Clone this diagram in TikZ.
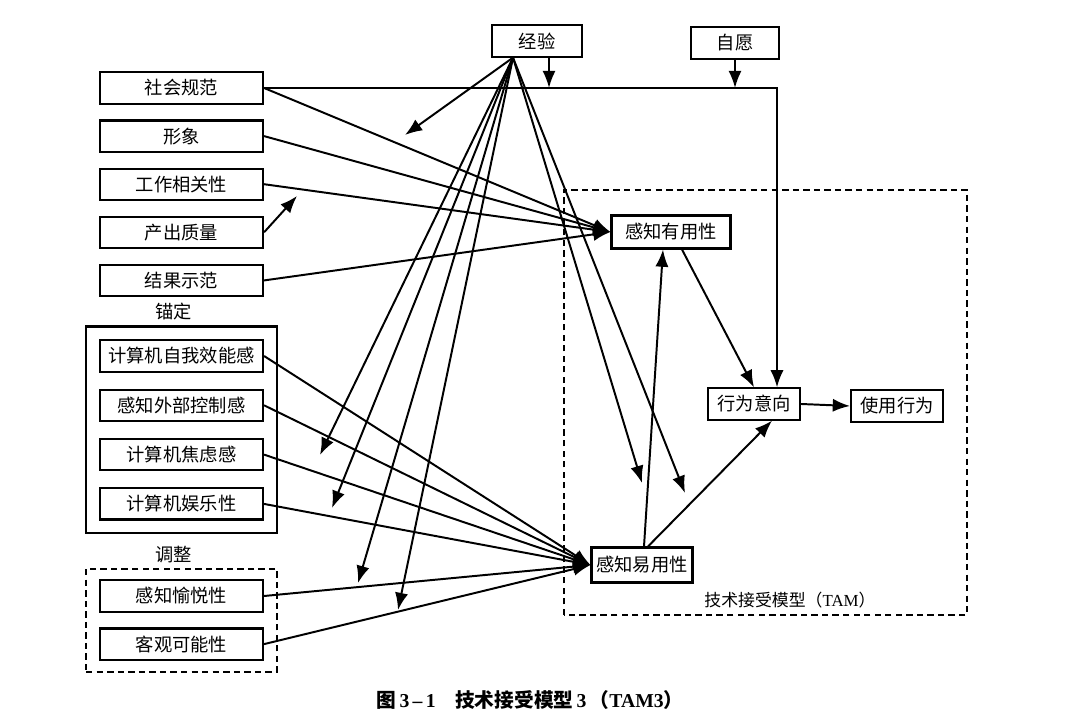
\documentclass[tikz,border=0pt]{standalone}
\usepackage{fontspec}
\setmainfont{Liberation Serif}
\newfontfamily\cjk{Noto Sans CJK SC}
\usetikzlibrary{arrows.meta, positioning, fit}

\begin{document}
\begin{tikzpicture}[
    box/.style={draw, line width=1.5pt, inner sep=2pt,
                minimum height=0.78cm, font=\cjk\fontsize{13}{15}\selectfont},
    lbox/.style={box, minimum width=4.075cm},
    grp/.style={draw, line width=1.5pt, inner sep=0.32cm},
    dashbox/.style={draw, line width=1.4pt, dash pattern=on 4.5pt off 3pt},
    lbl/.style={font=\cjk\fontsize{13}{15}\selectfont},
    arr/.style={-{Latex[length=4.3mm,width=3.3mm]}, line width=1.4pt}
  ]
  \useasboundingbox (0,0) rectangle (27,18.05);

  % top
  \node[box, minimum width=2.25cm] (exp) at (13.425,17.025) {经验};
  \node[box, minimum width=2.2cm]  (vol) at (18.375,16.975) {自愿};

  % left column
  \node[lbox] (norm) at (4.5375,15.85) {社会规范};
  \node[lbox, below=0.37cm of norm]  (image) {形象};
  \node[lbox, below=0.37cm of image] (rel)   {工作相关性};
  \node[lbox, below=0.37cm of rel]   (outq)  {产出质量};
  \node[lbox, below=0.37cm of outq]  (demo)  {结果示范};

  % anchors
  \node[lbox] (cse) at (4.5375,9.15) {计算机自我效能感};
  \node[lbox, below=0.4cm of cse] (pec)  {感知外部控制感};
  \node[lbox, below=0.4cm of pec] (anx)  {计算机焦虑感};
  \node[lbox, below=0.4cm of anx] (play) {计算机娱乐性};
  \node[grp, fit=(cse)(play)] (anc) {};
  \node[lbl, above=0pt of anc, xshift=-0.2cm] (anclbl) {锚定};

  % adjustments
  \node[lbox] (enj) at (4.5375,3.15) {感知愉悦性};
  \node[lbox, below=0.37cm of enj] (usab) {客观可能性};
  \node[dashbox, inner xsep=0.32cm, inner ysep=0.27cm, fit=(enj)(usab)] (adj) {};
  \node[lbl, above=0pt of adj, xshift=-0.2cm] (adjlbl) {调整};

  % TAM
  \draw[dashbox] (14.1,2.675) rectangle (24.175,13.3);
  \node[box, minimum width=2.975cm, minimum height=0.825cm] (pu)   at (16.775,12.25) {感知有用性};
  \node[box, minimum width=2.525cm, minimum height=0.875cm] (peou) at (16.05,3.925)  {感知易用性};
  \node[box, minimum width=2.3cm] (bi)  at (18.85,7.95)  {行为意向};
  \node[box, minimum width=2.3cm] (use) at (22.425,7.9) {使用行为};
  \node[font=\fontsize{12}{14}\selectfont] (tamlbl) at (19.75,3.05)
    {{\cjk 技术接受模型（}TAM{\cjk ）}};

  % free ends
  \coordinate (fan) at ([xshift=-0.6cm]exp.south);
  \coordinate (e1)  at ([xshift=0.3cm]exp.south);
  \coordinate (m1) at (10.125,14.675);
  \coordinate (m2) at (8.0,6.675);
  \coordinate (m3) at (8.3,5.35);
  \coordinate (m4) at (8.95,3.475);
  \coordinate (m5) at (9.95,2.8);
  \coordinate (m6) at (16.05,5.975);
  \coordinate (m7) at (17.125,5.725);
  \coordinate (q1) at (7.425,13.15);

  % connectors
  \draw[arr] (norm.east) -| ([xshift=0.575cm]bi.north);
  \draw[arr] (vol.south) -- (vol.south |- norm.east);
  \draw[arr] (e1) -- (e1 |- norm.east);
  \foreach \t in {m1,m2,m3,m4,m5,m6,m7}
    \draw[arr] (fan) -- (\t);
  \foreach \s in {norm,image,rel,demo}
    \draw[arr] (\s.east) -- (pu.west);
  \draw[arr] (outq.east) -- (q1);
  \foreach \s in {cse,pec,anx,play,enj,usab}
    \draw[arr] (\s.east) -- (peou.west);
  \draw[arr] ([xshift=0.275cm]pu.south) -- (bi.north);
  \draw[arr] ([xshift=0.05cm]peou.north) -- ([xshift=-0.2cm]pu.south);
  \draw[arr] ([xshift=0.15cm]peou.north) -- ([xshift=0.45cm]bi.south);
  \draw[arr] (bi.east) -- (use.west);

  % caption
  \node[font=\bfseries\fontsize{14}{16}\selectfont] (cap) at (13.25,0.55)
    {{\cjk\bfseries 图}\,3\,--\,1\quad{\cjk\bfseries 技术接受模型}\,3\,{\cjk\bfseries （}TAM3{\cjk\bfseries ）}};
\end{tikzpicture}
\end{document}
